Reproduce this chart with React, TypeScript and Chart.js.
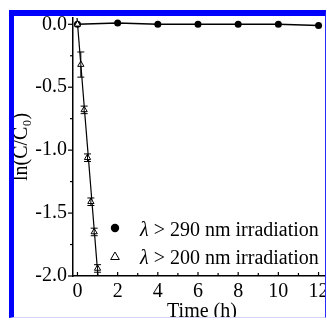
import React, { useEffect, useRef } from 'react';
import { Chart, registerables } from 'chart.js';

Chart.register(...registerables);

// ---- data ----
const times290 = [0, 2, 4, 6, 8, 10, 12];
const lnC290 = [0, 0.01, 0, 0, 0, 0, -0.01];

const times200 = [0, 0.167, 0.333, 0.5, 0.667, 0.833, 1.0];
const lnC200 = [0, -0.32, -0.68, -1.06, -1.41, -1.65, -1.94];
const err200 = [0, 0.1, 0.03, 0.03, 0.03, 0.03, 0.03];

const fitTimes = [-0.03, 1.03];
const fitLnC = [0.069, -2.019];

const label290 = 'λ > 290 nm irradiation';
const label200 = 'λ > 200 nm irradiation';

const xTickLabels = ['0', '2', '4', '6', '8', '10', '12'];
const yTickLabels = ['-2.0', '-1.5', '-1.0', '-0.5', '0.0'];

const xTitle = 'Time (h)';
const yTitle = 'ln(C/C₀)';

const FONT = "'Liberation Serif', 'Times New Roman', serif";

const tickMarksPlugin = {
  id: 'tickMarks',
  afterDraw(chart: any) {
    const { ctx, chartArea, scales } = chart;
    const xs = scales.x;
    const ys = scales.y;
    ctx.save();
    ctx.strokeStyle = '#000';
    ctx.lineWidth = 1.2;
    xs.ticks.forEach((t: any) => {
      const px = xs.getPixelForValue(t.value);
      const major = Math.abs(t.value % 2) < 1e-6;
      ctx.beginPath();
      ctx.moveTo(px, chartArea.bottom);
      ctx.lineTo(px, chartArea.bottom - (major ? 4 : 3));
      ctx.stroke();
    });
    ys.ticks.forEach((t: any) => {
      const py = ys.getPixelForValue(t.value);
      const major = Math.abs(Math.round(t.value * 2) - t.value * 2) < 1e-6;
      ctx.beginPath();
      ctx.moveTo(chartArea.left, py);
      ctx.lineTo(chartArea.left - (major ? 5 : 3), py);
      ctx.stroke();
    });
    ctx.restore();
  },
};

const errorBarPlugin = {
  id: 'errorBars',
  afterDatasetsDraw(chart: any) {
    const { ctx, chartArea, scales } = chart;
    ctx.save();
    ctx.beginPath();
    ctx.rect(chartArea.left, chartArea.top, chartArea.right - chartArea.left, chartArea.bottom - chartArea.top);
    ctx.clip();
    ctx.strokeStyle = '#000';
    ctx.lineWidth = 1;
    chart.data.datasets.forEach((ds: any) => {
      if (!ds.errorBars) return;
      ds.data.forEach((p: any, i: number) => {
        const e = ds.errorBars[i];
        if (!e) return;
        const px = scales.x.getPixelForValue(p.x);
        const y1 = scales.y.getPixelForValue(p.y + e);
        const y2 = scales.y.getPixelForValue(p.y - e);
        ctx.beginPath();
        ctx.moveTo(px, y1);
        ctx.lineTo(px, y2);
        ctx.moveTo(px - 3.5, y1);
        ctx.lineTo(px + 3.5, y1);
        ctx.moveTo(px - 3.5, y2);
        ctx.lineTo(px + 3.5, y2);
        ctx.stroke();
      });
    });
    ctx.restore();
  },
};

const innerLegendPlugin = {
  id: 'innerLegend',
  afterDraw(chart: any) {
    const { ctx, chartArea } = chart;
    const items = chart.data.datasets.filter((d: any) => d.label);
    items.forEach((ds: any, i: number) => {
      const my = chartArea.bottom - 48 + i * 28;
      const mx = chartArea.left + 42;
      ctx.save();
      ctx.strokeStyle = '#000';
      ctx.fillStyle = '#000';
      ctx.lineWidth = 1;
      if (ds.pointStyle === 'triangle') {
        const r = 5;
        ctx.beginPath();
        for (let k = 0; k < 3; k++) {
          const a = (k * 2 * Math.PI) / 3;
          const vx = mx + Math.sin(a) * r;
          const vy = my + 1 - Math.cos(a) * r;
          if (k === 0) ctx.moveTo(vx, vy);
          else ctx.lineTo(vx, vy);
        }
        ctx.closePath();
        ctx.stroke();
      } else {
        ctx.beginPath();
        ctx.arc(mx, my, 4.2, 0, Math.PI * 2);
        ctx.fill();
      }
      const label: string = ds.label;
      const first = label.charAt(0);
      const rest = label.slice(1);
      const tx = chartArea.left + 67;
      const ty = my + 8;
      ctx.textBaseline = 'alphabetic';
      ctx.textAlign = 'left';
      ctx.font = `italic 20px ${FONT}`;
      ctx.fillText(first, tx, ty);
      const w = ctx.measureText(first).width;
      ctx.font = `20px ${FONT}`;
      ctx.fillText(rest, tx + w, ty);
      ctx.restore();
    });
  },
};

export default function App() {
  const canvasRef = useRef<HTMLCanvasElement | null>(null);

  useEffect(() => {
    if (!canvasRef.current) return;
    const chart = new Chart(canvasRef.current, {
      type: 'scatter',
      data: {
        datasets: [
          {
            label: label290,
            data: times290.map((t, i) => ({ x: t, y: lnC290[i] })),
            showLine: true,
            borderColor: '#000',
            borderWidth: 1.5,
            pointStyle: 'circle',
            pointRadius: 3.5,
            pointBackgroundColor: '#000',
            pointBorderColor: '#000',
            pointBorderWidth: 0,
            order: 1,
          } as any,
          {
            label: label200,
            data: times200.map((t, i) => ({ x: t, y: lnC200[i] })),
            errorBars: err200,
            showLine: false,
            pointStyle: 'triangle',
            pointRadius: 3.6,
            pointBackgroundColor: '#fff',
            pointBorderColor: '#000',
            pointBorderWidth: 1,
            order: 0,
          } as any,
          {
            data: fitTimes.map((t, i) => ({ x: t, y: fitLnC[i] })),
            showLine: true,
            borderColor: '#000',
            borderWidth: 1.2,
            pointRadius: 0,
            order: 2,
          } as any,
        ],
      },
      options: {
        animation: false,
        responsive: false,
        devicePixelRatio: 1,
        layout: { padding: { top: 16, right: 3, bottom: 0, left: 0 } },
        plugins: {
          legend: { display: false },
          tooltip: { enabled: false },
        },
        font: { family: FONT },
        scales: {
          x: {
            type: 'linear',
            min: -0.222,
            max: 12.62,
            afterFit: (s: any) => {
              s.height = 54;
            },
            grid: { display: true, drawOnChartArea: false, drawTicks: false },
            border: { display: true, color: '#000', width: 1.5 },
            ticks: {
              stepSize: 1,
              includeBounds: false,
              autoSkip: false,
              maxRotation: 0,
              padding: 4,
              color: '#000',
              font: { family: FONT, size: 20 },
              callback: (v: any) => {
                const s = String(Math.round(Number(v)));
                return xTickLabels.includes(s) && Math.abs(Number(v) - Math.round(Number(v))) < 1e-6 ? s : '';
              },
            },
            title: {
              display: true,
              text: xTitle,
              color: '#000',
              font: { family: FONT, size: 20 },
              padding: { top: 0, bottom: 6 },
            },
          },
          y: {
            type: 'linear',
            min: -2.0,
            max: 0.05,
            afterFit: (s: any) => {
              s.width = 73;
            },
            grid: { display: true, drawOnChartArea: false, drawTicks: false },
            border: { display: true, color: '#000', width: 1.5 },
            ticks: {
              stepSize: 0.25,
              includeBounds: false,
              autoSkip: false,
              padding: 6,
              color: '#000',
              font: { family: FONT, size: 20 },
              callback: (v: any) => {
                const s = Number(v).toFixed(1);
                const isHalf = Math.abs(Math.round(Number(v) * 2) - Number(v) * 2) < 1e-6;
                const lbl = s === '-0.0' ? '0.0' : s;
                return isHalf && yTickLabels.includes(lbl) ? lbl : '';
              },
            },
            title: {
              display: true,
              text: yTitle,
              color: '#000',
              font: { family: FONT, size: 20 },
              padding: { top: 9.5, bottom: 0 },
            },
          },
        },
      } as any,
      plugins: [tickMarksPlugin, errorBarPlugin, innerLegendPlugin],
    });
    return () => chart.destroy();
  }, []);

  return (
    <div style={{ position: 'absolute', left: 0, top: 0, width: 327, height: 320, background: '#fff', overflow: 'hidden' }}>
      <div
        style={{
          position: 'absolute',
          left: 9,
          top: 10,
          width: 317,
          height: 308,
          boxSizing: 'border-box',
          borderTop: '6px solid #0000ff',
          borderLeft: '5px solid #0000ff',
          borderRight: '1px solid #2a2aff',
          borderBottom: '1px solid #d4d4f4',
          overflow: 'hidden',
        }}
      >
        <canvas
          ref={canvasRef}
          width={336}
          height={330}
          style={{ position: 'absolute', left: -14, top: -16, width: 336, height: 330 }}
        />
      </div>
    </div>
  );
}
